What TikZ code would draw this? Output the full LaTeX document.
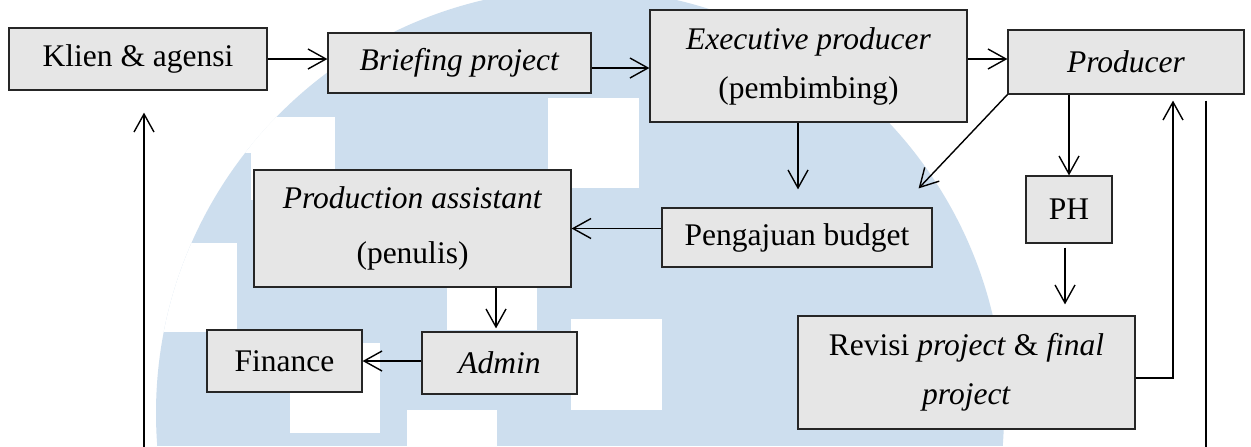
\documentclass[tikz,border=0pt]{standalone}
\usepackage{fontspec}
\setmainfont{Liberation Serif}
\usetikzlibrary{arrows.meta,calc}
\definecolor{wm}{RGB}{205,222,238}
\definecolor{boxfill}{RGB}{230,230,230}
\begin{document}
\begin{tikzpicture}[x=0.5pt,y=-0.5pt,
  box/.style={draw=black!85, line width=0.6pt, fill=boxfill, inner sep=0pt, align=center,
              font=\fontsize{15.75}{24.5}\selectfont},
  arr/.style={line width=0.7pt, -{Straight Barb[length=9pt,width=10pt]}}]
\useasboundingbox (0,0) rectangle (1251,446);
\clip (0,0) rectangle (1251,446);
\fill[white] (0,0) rectangle (1251,446);
% watermark
\begin{scope}
  \clip (580,413) circle [radius=424];
  \fill[wm] (0,0) rectangle (1251,446);
  \fill[white] (548,98) rectangle (639,188);
  \fill[white] (571,319) rectangle (662,410);
  \fill[white] (447,270) rectangle (537,330);
  \fill[white] (290,343) rectangle (380,433);
  \fill[white] (407,410) rectangle (497,450);
  \fill[white] (0,117) rectangle (335,153);
  \fill[white] (251,117) rectangle (335,200);
  \fill[white] (0,243) rectangle (237,332);
\end{scope}
% nodes
\node[box, minimum width=129pt, minimum height=31pt] (klien) at (138,59) {Klien \& agensi};
\node[box, minimum width=131.5pt, minimum height=30pt] (brief) at (459.5,63) {\textit{Briefing project}};
\node[box, minimum width=158.5pt, minimum height=56pt] (exec) at (808.5,66) {\textit{Executive producer}\\(pembimbing)};
\node[box, minimum width=118pt, minimum height=32pt] (prod) at (1126,62) {\textit{Producer}};
\node[box, minimum width=158.5pt, minimum height=58.5pt, font=\fontsize{15.75}{27.5}\selectfont] (pa) at (412.5,228.5) {\textit{Production assistant}\\(penulis)};
\node[box, minimum width=135pt, minimum height=29.5pt] (budget) at (797,237.5) {Pengajuan budget};
\node[box, minimum width=43pt, minimum height=33.5pt] (ph) at (1069,209.5) {PH};
\node[box, minimum width=77.5pt, minimum height=31pt] (fin) at (284.5,361) {Finance};
\node[box, minimum width=77.5pt, minimum height=31pt] (admin) at (499.5,363) {\textit{Admin}};
\node[box, minimum width=168.5pt, minimum height=56.5pt] (rev) at (966.5,372.5) {Revisi \textit{project} \& \textit{final}\\\textit{project}};
% connectors
\draw[arr] (klien.east) -- (klien.east -| brief.west);
\coordinate (b1) at ([yshift=-2.5pt]brief.east);
\draw[arr] (b1) -- (b1 -| exec.west);
\coordinate (a1) at ([yshift=1.5pt]prod.west);
\draw[arr] (exec.east |- a1) -- (a1);
\coordinate (e1) at ([xshift=-5.25pt]exec.south);
\draw[arr, shorten >=9pt] (e1) -- (e1 |- budget.north);
\coordinate (d1) at ($(budget.north east)+(-14,-19)$);
\draw[arr] (prod.south west) -- (d1);
\draw[arr] (prod.south -| ph.north) -- (ph.north);
\coordinate (p1) at ($(ph.south)+(-4,4)$);
\draw[arr, shorten >=5.5pt] (p1) -- (p1 |- rev.north);
\draw[arr] (budget.west |- pa.east) -- (pa.east);
\coordinate (q1) at ([xshift=-1.75pt]admin.north);
\draw[arr, shorten >=1.5pt] (q1 |- pa.south) -- (q1);
\draw[arr] (admin.west |- fin.east) -- (fin.east);
\coordinate (r1) at ($(prod.south)+(47,6)$);
\draw[arr] ([yshift=-2.75pt]rev.east) -| (r1);
\coordinate (r2) at ($(prod.south)+(80,6)$);
\coordinate (k1) at ($(klien.south)+(6,22)$);
\draw[arr] (r2) -- ++(0,380) -| (k1);
\end{tikzpicture}
\end{document}
